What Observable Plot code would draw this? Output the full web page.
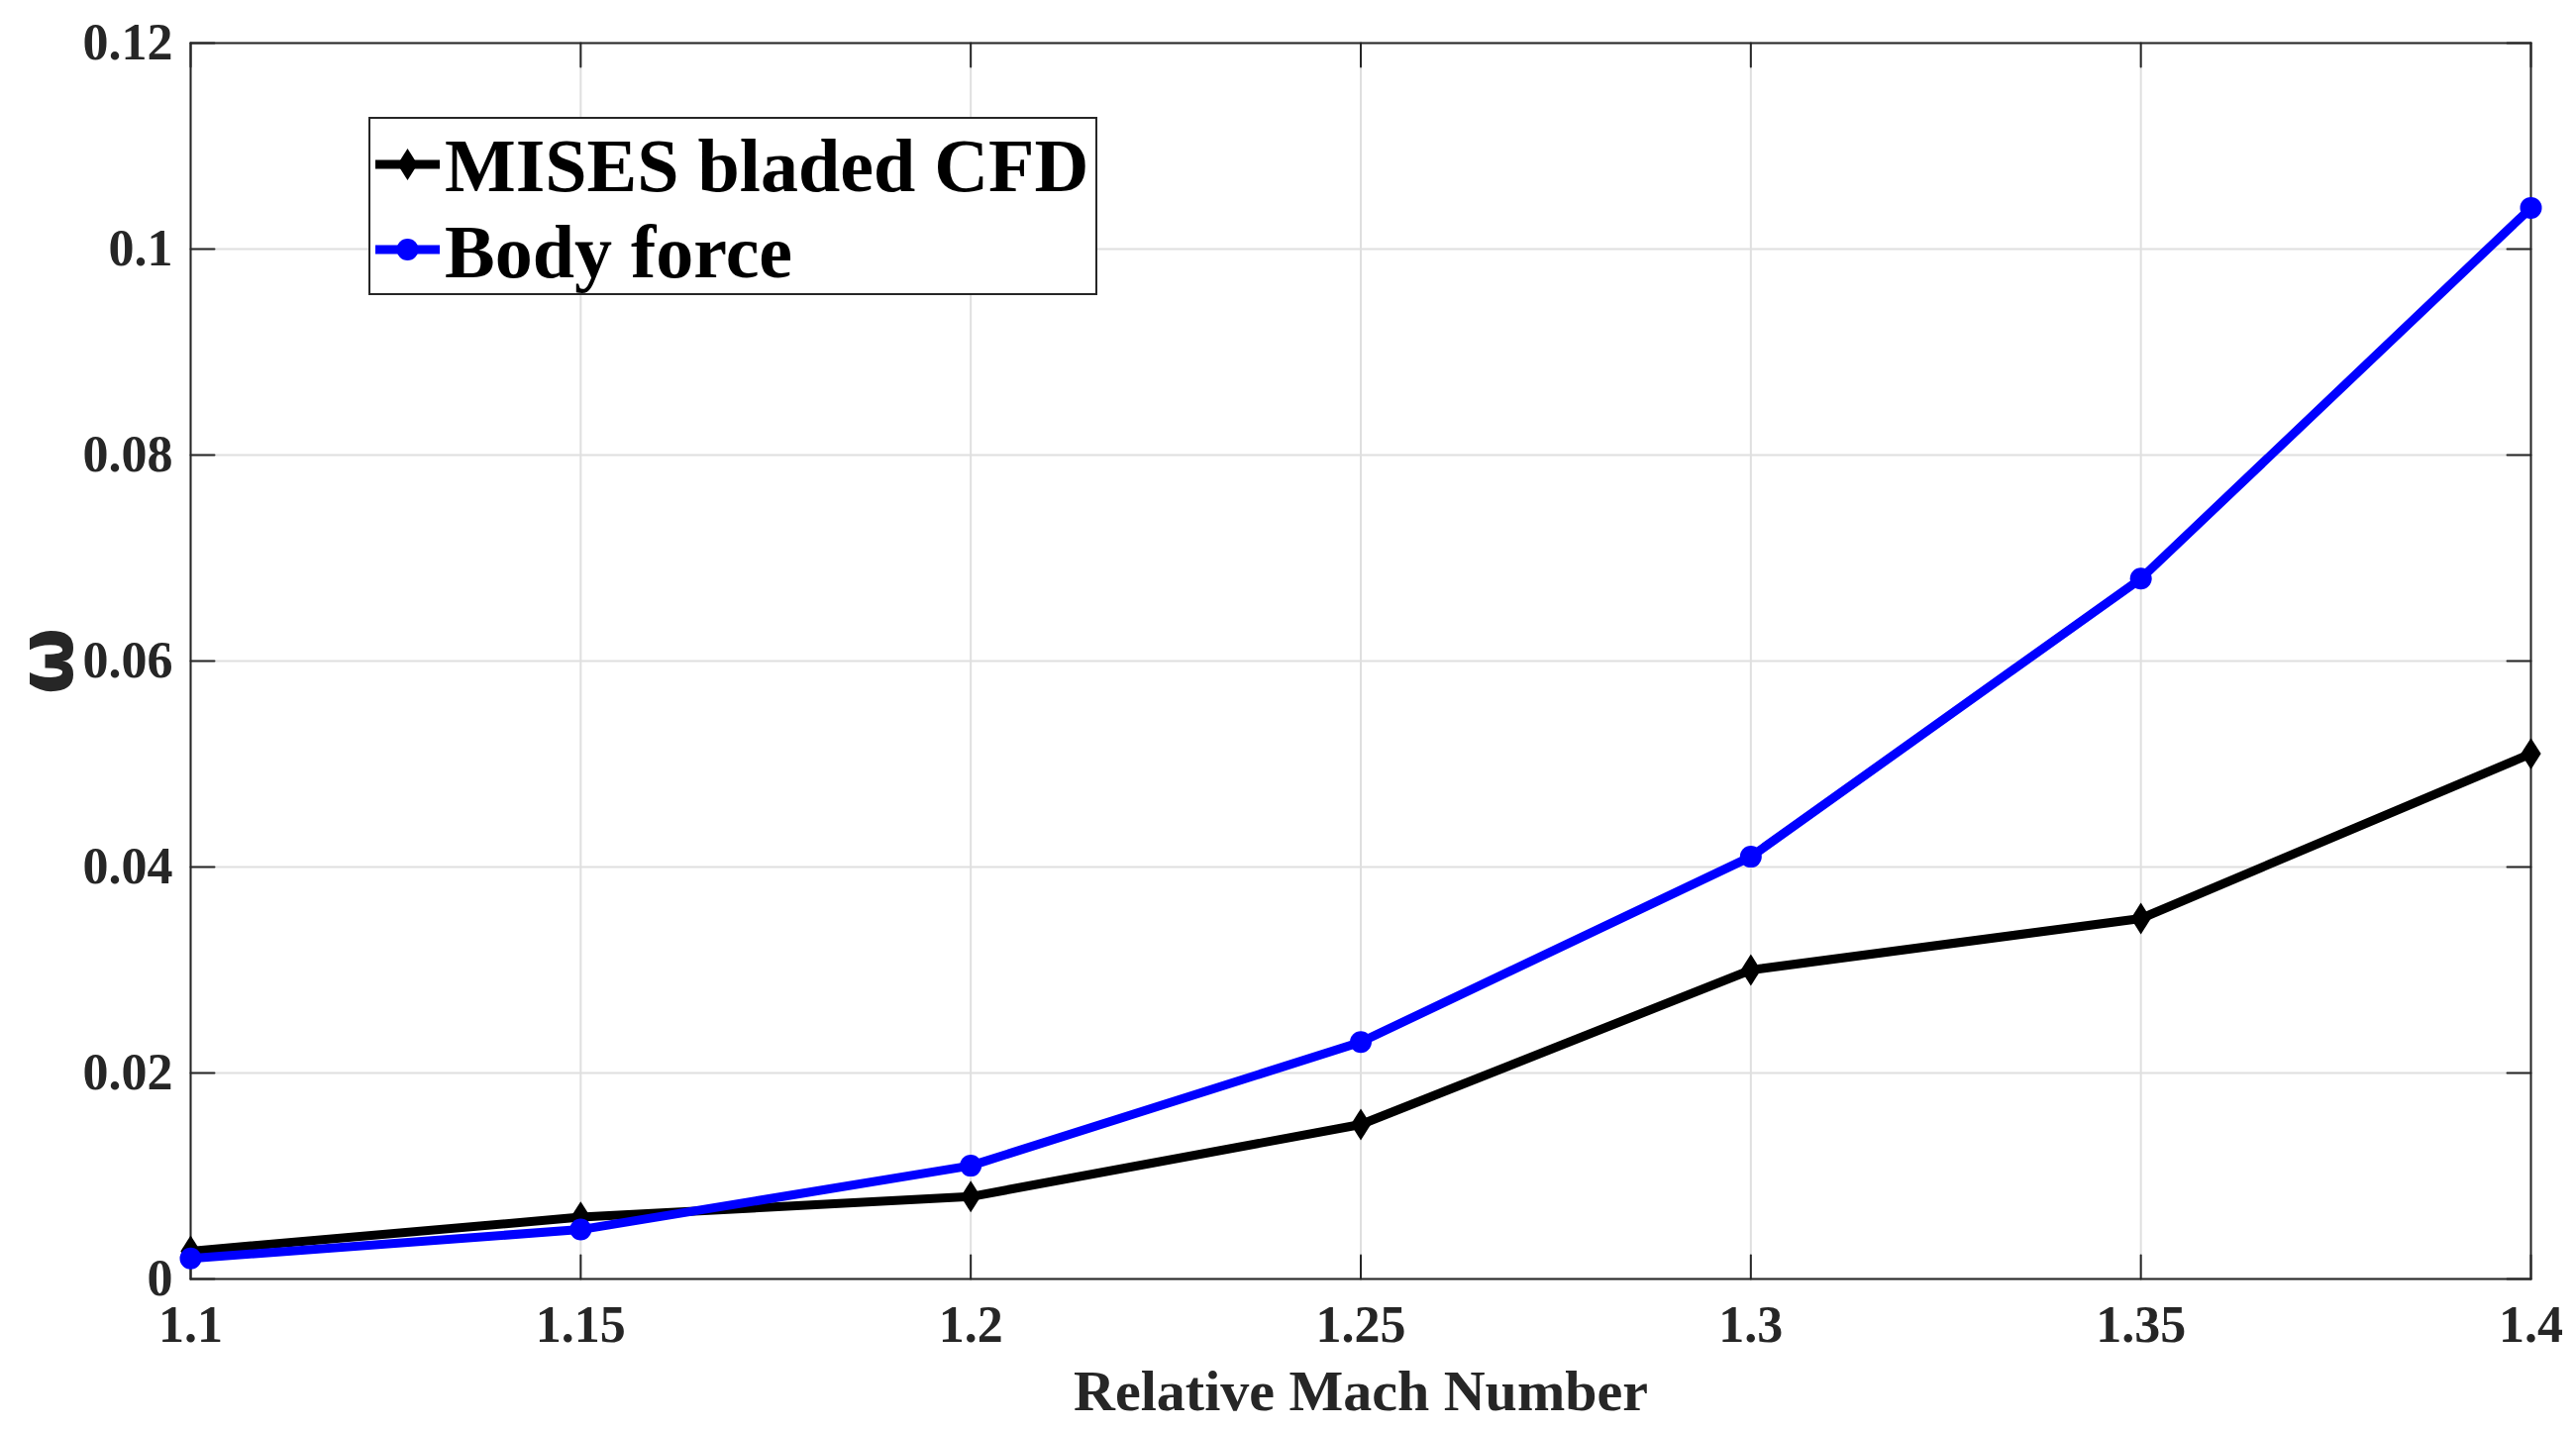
<!DOCTYPE html>
<html><head><meta charset="utf-8">
<script src="https://cdn.jsdelivr.net/npm/d3@7"></script>
<script src="https://cdn.jsdelivr.net/npm/@observablehq/plot@0.6"></script>
<style>
html,body{margin:0;padding:0;background:#fff;}
#wrap{position:relative;width:2601px;height:1445px;overflow:hidden;}
#wrap > svg{position:absolute;left:0;top:0;}
</style></head><body><div id="wrap"></div>
<script>
const machNumbers = [1.1, 1.15, 1.2, 1.25, 1.3, 1.35, 1.4];
const misesCFD   = [0.0027, 0.006, 0.008, 0.015, 0.030, 0.035, 0.051];
const bodyForce  = [0.002, 0.0048, 0.011, 0.023, 0.041, 0.068, 0.104];
const xTicks = [1.1, 1.15, 1.2, 1.25, 1.3, 1.35, 1.4];
const xTickLabels = ["1.1", "1.15", "1.2", "1.25", "1.3", "1.35", "1.4"];
const yTicks = [0, 0.02, 0.04, 0.06, 0.08, 0.1, 0.12];
const yTickLabels = ["0", "0.02", "0.04", "0.06", "0.08", "0.1", "0.12"];
const seriesNames = ["MISES bladed CFD", "Body force"];
const seriesColors = ["#000000", "#0000ff"];
const xLabel = "Relative Mach Number";
const yLabel = "ω";

const serif = "Liberation Serif, Times New Roman, serif";
const axisColor = "#262626";

const tallDiamond = {draw(ctx, size) {
  const r = Math.sqrt(size / Math.PI);
  const h = r * 1.45, w = r * 0.92;
  ctx.moveTo(0, -h); ctx.lineTo(w, 0); ctx.lineTo(0, h); ctx.lineTo(-w, 0); ctx.closePath();
}};
const tickShape = {draw(ctx, l) { ctx.moveTo(0, 0); ctx.lineTo(0, -l); }};

const cfd = machNumbers.map((m, i) => ({x: m, y: misesCFD[i]}));
const bf = machNumbers.map((m, i) => ({x: m, y: bodyForce[i]}));

const tickOpts = {shape: tickShape, length: 24, anchor: "start", stroke: axisColor, strokeWidth: 2};

const plot = Plot.plot({
  width: 2601, height: 1445,
  marginLeft: 192, marginRight: 46, marginTop: 43, marginBottom: 154,
  x: {domain: [1.1, 1.4], axis: null, label: null},
  y: {domain: [0, 0.12], axis: null, label: null},
  style: {background: "white", overflow: "visible"},
  marks: [
    Plot.gridX(xTicks, {stroke: "#dfdfdf", strokeOpacity: 1, strokeWidth: 2}),
    Plot.gridY(yTicks, {stroke: "#dfdfdf", strokeOpacity: 1, strokeWidth: 2}),
    Plot.frame({stroke: axisColor, strokeWidth: 2}),
    Plot.vector(xTicks, {x: d => d, frameAnchor: "bottom", rotate: 0, ...tickOpts}),
    Plot.vector(xTicks, {x: d => d, frameAnchor: "top", rotate: 180, ...tickOpts}),
    Plot.vector(yTicks, {y: d => d, frameAnchor: "left", rotate: 90, ...tickOpts}),
    Plot.vector(yTicks, {y: d => d, frameAnchor: "right", rotate: -90, ...tickOpts}),
    Plot.axisX(xTicks, {anchor: "bottom", tickSize: 0, tickPadding: 27,
      tickFormat: d => xTickLabels[xTicks.indexOf(d)], label: null,
      fontSize: 52, fontFamily: serif, fontWeight: "bold", fill: axisColor}),
    Plot.axisY(yTicks, {anchor: "left", tickSize: 0, tickPadding: 18,
      tickFormat: d => yTickLabels[yTicks.indexOf(d)], label: null,
      fontSize: 52, fontFamily: serif, fontWeight: "bold", fill: axisColor}),
    Plot.axisX([], {anchor: "bottom", tickSize: 0, label: xLabel, labelAnchor: "center", labelArrow: "none",
      labelOffset: 132, fontSize: 58, fontFamily: serif, fontWeight: "bold", fill: axisColor}),
    Plot.axisY([], {anchor: "left", tickSize: 0, label: yLabel, labelAnchor: "center", labelArrow: "none",
      labelOffset: 175, fontSize: 78, fontFamily: "DejaVu Sans", fontWeight: "bold", fill: axisColor}),
    Plot.line(cfd, {x: "x", y: "y", stroke: seriesColors[0], strokeWidth: 9, strokeLinejoin: "round"}),
    Plot.dot(cfd, {x: "x", y: "y", r: 11, symbol: tallDiamond, fill: seriesColors[0], stroke: "none"}),
    Plot.line(bf, {x: "x", y: "y", stroke: seriesColors[1], strokeWidth: 9, strokeLinejoin: "round"}),
    Plot.dot(bf, {x: "x", y: "y", r: 11, symbol: "circle", fill: seriesColors[1], stroke: "none"})
  ]
});
const wrap = document.getElementById("wrap");
wrap.appendChild(plot);

// legend overlay
const lg = d3.select(wrap).append("svg")
  .attr("width", 737).attr("height", 181)
  .style("left", "372px").style("top", "118px");
lg.append("rect").attr("x", 1).attr("y", 1).attr("width", 734).attr("height", 178)
  .attr("fill", "white").attr("stroke", axisColor).attr("stroke-width", 2);
const rowsY = [48, 134];
const baseY = [75, 162];
const legendSymbols = [
  d3.symbol().type(tallDiamond).size(Math.PI * 11 * 11),
  d3.symbol().type(d3.symbolCircle).size(Math.PI * 11 * 11)
];
seriesNames.forEach((name, i) => {
  lg.append("line").attr("x1", 7).attr("x2", 72).attr("y1", rowsY[i]).attr("y2", rowsY[i])
    .attr("stroke", seriesColors[i]).attr("stroke-width", 9);
  lg.append("path").attr("d", legendSymbols[i]()).attr("transform", `translate(39.5,${rowsY[i]})`)
    .attr("fill", seriesColors[i]);
  lg.append("text").attr("x", 77).attr("y", baseY[i]).text(name)
    .attr("font-family", serif).attr("font-weight", "bold").attr("font-size", 76).attr("fill", "#000");
});
</script></body></html>
